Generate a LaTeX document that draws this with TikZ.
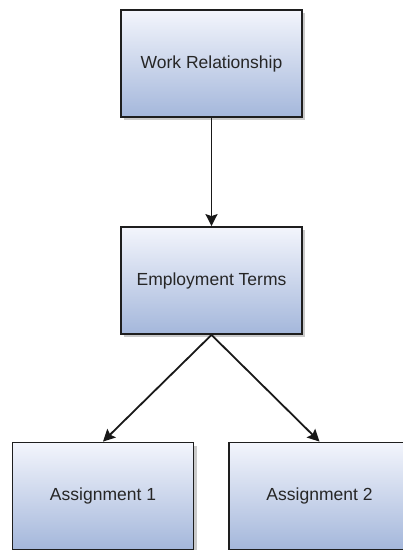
\documentclass[tikz,border=0pt]{standalone}
\usepackage{fontspec}
\setmainfont{Liberation Sans}
\usetikzlibrary{arrows.meta,shadows}
\definecolor{boxtop}{RGB}{243,245,252}
\definecolor{boxbot}{RGB}{164,183,219}
\definecolor{boxline}{RGB}{30,30,30}
\tikzset{
  entity/.style={rectangle, draw=boxline, line width=1.8pt,
    top color=boxtop, bottom color=boxbot,
    minimum width=181pt, minimum height=107pt, inner sep=0pt,
    font=\fontsize{17.5}{20}\selectfont, text=black!85,
    drop shadow={shadow xshift=3pt, shadow yshift=-3pt, fill=black!35, opacity=0.6}},
  link/.style={draw=black!90, line width=1.8pt, -{Stealth[length=12pt,width=12pt,inset=2pt]}}
}
\begin{document}
\begin{tikzpicture}[x=1pt,y=-1pt]
\useasboundingbox (0,0) rectangle (403,550);
\clip (0,0) rectangle (403,550);
\node[entity] (wr) at (211.5,63.5) {Work Relationship};
\node[entity] (et) at (211.5,280.5) {Employment Terms};
\node[entity] (a1) at (103,496) {Assignment 1};
\node[entity] (a2) at (319.5,496) {Assignment 2};
\draw[link] (wr.south) -- (et.north);
\draw[link] (et.south) -- (a1.north);
\draw[link] (et.south) -- (a2.north);
\end{tikzpicture}
\end{document}
